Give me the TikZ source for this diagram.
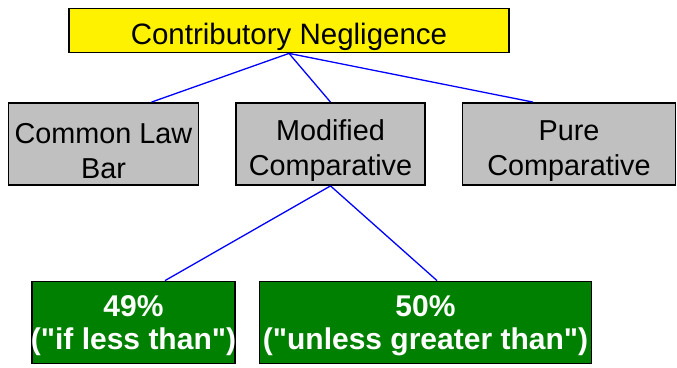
\documentclass[tikz,border=0pt]{standalone}
\usepackage{fontspec}
\setmainfont{Liberation Sans}
\usepackage{tikz}
\usetikzlibrary{positioning}

\begin{document}
\begin{tikzpicture}[
      x=1pt,
      y=-1pt,
      box/.style={
          rectangle,
          draw,
          line width=1.8pt,
          inner sep=0pt
        },
      top/.style={
          box,
          minimum width=440pt,
          minimum height=44pt,
          fill=yellow
        },
      kind/.style={
          box,
          minimum height=82pt,
          fill={rgb,255:red,192;green,192;blue,192}
        },
      rule/.style={
          box,
          minimum height=82pt,
          fill={rgb,255:red,0;green,128;blue,0}
        },
      toptext/.style={
          align=center,
          inner sep=0pt,
          font=\fontsize{29.5}{34}\selectfont
        },
      kindtext/.style={
          align=center,
          inner sep=0pt,
          font=\fontsize{28.8}{35}\selectfont
        },
      ruletext/.style={
          align=center,
          inner sep=0pt,
          text=white,
          font=\fontsize{30}{33}\selectfont\bfseries
        },
      link/.style={
          draw={rgb,255:red,0;green,0;blue,255},
          line width=1.3pt
        }
    ]

    \useasboundingbox (0,0) rectangle (677,367);

    % Boxes
    \node[top] (neg) at (289,30.5) {};
    \node[kind, minimum width=190pt] (bar) at (103.5,144) {};
    \node[kind, minimum width=189pt] (mod) at (330.5,144) {};
    \node[kind, minimum width=213pt] (pure) at (569,144) {};
    \node[rule, minimum width=203pt] (less) at (133.5,322.5) {};
    \node[rule, minimum width=332pt] (unless) at (425.5,322.5) {};

    % Texts
    \node[toptext] (neg-t) at ([yshift=-6pt]neg) {Contributory Negligence};
    \node[kindtext] (bar-t) at ([yshift=-7pt]bar) {Common Law\\Bar};
    \node[kindtext] (mod-t) at ([yshift=-7pt]mod) {Modified\\Comparative};
    \node[kindtext] (pure-t) at ([yshift=-7pt]pure) {Pure\\Comparative};
    \node[ruletext] (less-t) at ([yshift=-3pt]less) {49\%\\(\textquotedbl if less than\textquotedbl)};
    \node[ruletext] (unless-t) at ([yshift=-3pt]unless) {50\%\\(\textquotedbl unless greater than\textquotedbl)};

    % Lines
    \draw[link] (neg.south) -- ([xshift=48pt]bar.north);
    \draw[link] (neg.south) -- (mod.north);
    \draw[link] (neg.south) -- ([xshift=-36pt]pure.north);
    \draw[link] (mod.south) -- ([xshift=31.5pt]less.north);
    \draw[link] (mod.south) -- ([xshift=11.5pt]unless.north);
  \end{tikzpicture}
\end{document}
